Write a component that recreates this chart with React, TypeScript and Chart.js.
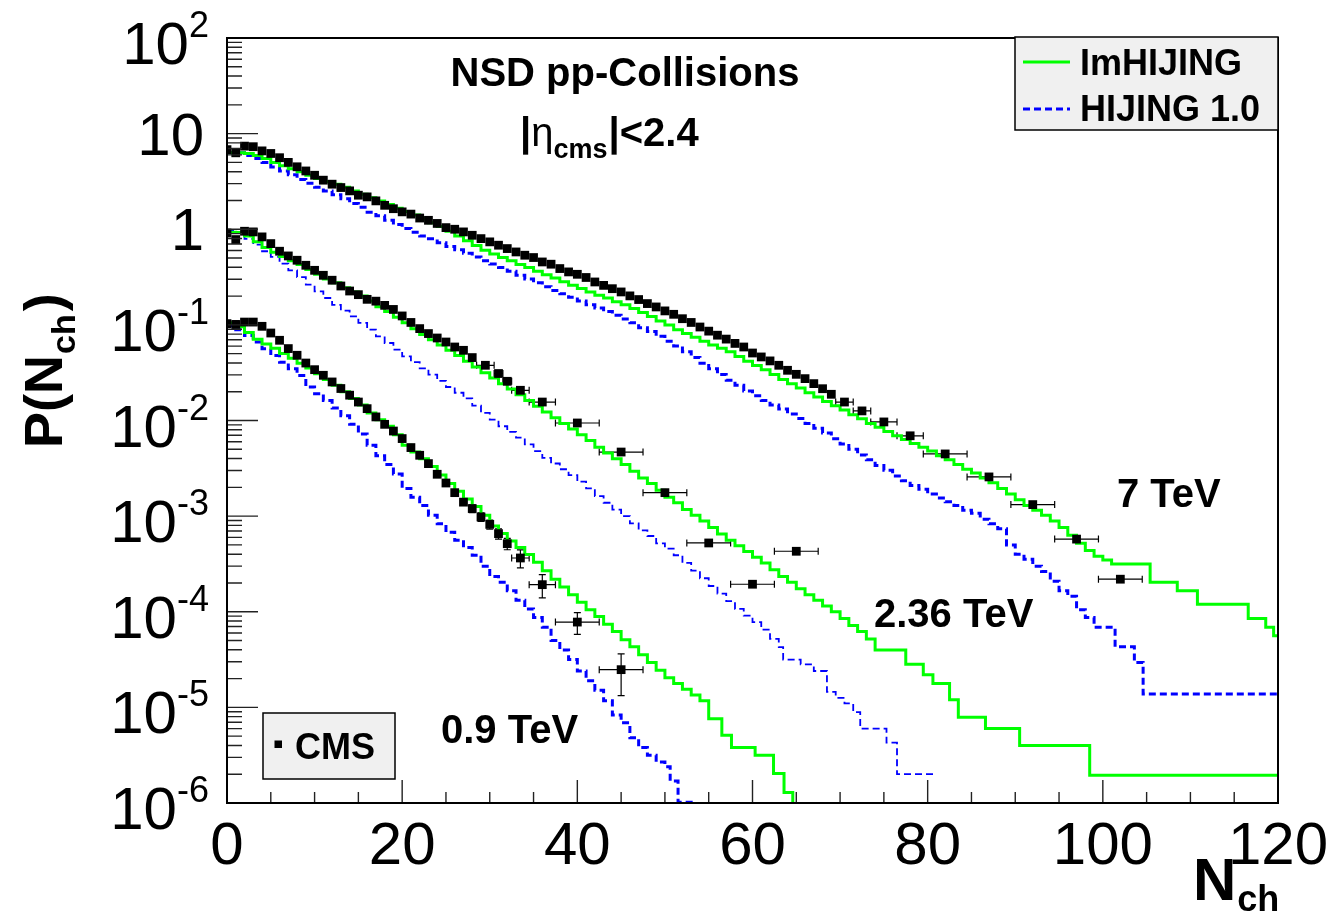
import React, { useEffect, useRef } from 'react';
import { Chart, registerables } from 'chart.js';

Chart.register(...registerables);

// ---------------- axis data ----------------
const xTickValues = [0, 20, 40, 60, 80, 100, 120];
const xMinorStep = 5;
const yTickExponents = [-6, -5, -4, -3, -2, -1, 0, 1, 2];

// ---------------- CMS data (dense bins: N = 0,1,2,...) ----------------
const cms7Dense = [
  6.8, 6.3, 7.4, 7.3, 6.6, 6.2, 5.6, 5.0, 4.5, 4.07,
  3.67, 3.26, 2.96, 2.73, 2.52, 2.27, 2.18, 1.98, 1.78, 1.64,
  1.52, 1.44, 1.31, 1.24, 1.15, 1.04, 1.0, 0.938, 0.865, 0.798,
  0.738, 0.681, 0.628, 0.579, 0.535, 0.506, 0.455, 0.431, 0.388, 0.358,
  0.338, 0.313, 0.281, 0.259, 0.239, 0.221, 0.201, 0.184, 0.167, 0.154,
  0.14, 0.129, 0.116, 0.106, 0.095, 0.086, 0.078, 0.071, 0.064, 0.0587,
  0.0508, 0.0462, 0.042, 0.0378, 0.0335, 0.0304, 0.0274, 0.0243, 0.0215, 0.0188,
];
const cms7WideN = [70.5, 72.5, 75, 78, 82, 87, 92, 97, 102];
const cms7WideP = [0.0156, 0.0126, 0.00966, 0.00692, 0.00447, 0.00257, 0.00132, 5.75e-4, 2.19e-4];
const cms7WideXErr = [1, 1, 1.5, 1.5, 2.5, 2.5, 2.5, 2.5, 2.5];

const cms236Dense = [
  0.914, 0.78, 0.953, 0.938, 0.832, 0.708, 0.589, 0.526, 0.474, 0.42,
  0.372, 0.33, 0.293, 0.255, 0.226, 0.207, 0.185, 0.177, 0.16, 0.145,
  0.124, 0.106, 0.0914, 0.0811, 0.0729, 0.0662, 0.0587, 0.0542, 0.0455,
];
const cms236WideN = [29.5, 31, 32, 33.5, 36, 40, 45, 50, 55, 60, 65];
const cms236WideP = [0.0378, 0.031, 0.0257, 0.0207, 0.0156, 0.00942, 0.00468, 0.00176, 5.24e-4, 1.94e-4, 4.29e-4];
const cms236WideXErr = [1, 0.5, 0.5, 1, 1.5, 2.5, 2.5, 2.5, 2.5, 2.5, 2.5];

const cms09Dense = [
  0.103, 0.101, 0.107, 0.107, 0.0966, 0.0822, 0.069, 0.0565, 0.0481, 0.0399,
  0.034, 0.0297, 0.0253, 0.0216, 0.0184, 0.0156, 0.0133, 0.0109, 0.00912, 0.00776,
  0.00647, 0.00521, 0.00433, 0.00354, 0.00274, 0.00222, 0.00176, 0.0014, 0.0012, 9.8e-4,
  8.2e-4, 6.56e-4, 5.15e-4,
];
const cms09DenseYErr = [
  0, 0.009, 0, 0, 0, 0, 0, 0, 0, 0,
  0, 0, 0, 0, 0, 0, 0, 0, 0, 0,
  0, 0, 0, 1.5e-4, 1.4e-4, 1.2e-4, 1.1e-4, 1.0e-4, 1.1e-4, 1.0e-4,
  9e-5, 8e-5, 7e-5,
];
const cms09WideN = [33.5, 36, 40, 45];
const cms09WideP = [3.65e-4, 1.92e-4, 7.8e-5, 2.48e-5];
const cms09WideXErr = [1, 1.5, 2.5, 2.5];
const cms09WideYErr = [7.8e-5, 5.2e-5, 2.0e-5, 1.15e-5];

// ---------------- model histograms (dense bins [i, i+1], then wider tail bins) ----------------
const green7Dense = [
  6.3, 6.3, 6.2, 5.9, 5.5, 5.0, 4.6, 4.3, 4.0, 3.67,
  3.39, 3.16, 2.95, 2.75, 2.51, 2.32, 2.14, 1.97, 1.82, 1.66,
  1.53, 1.41, 1.29, 1.17, 1.07, 0.955, 0.851, 0.759, 0.676, 0.603,
  0.55, 0.507, 0.468, 0.427, 0.398, 0.363, 0.335, 0.309, 0.282, 0.26,
  0.24, 0.221, 0.204, 0.191, 0.174, 0.162, 0.148, 0.135, 0.122, 0.11,
  0.1, 0.0891, 0.0813, 0.0741, 0.0676, 0.0617, 0.0569, 0.0525, 0.0468, 0.0417,
  0.0376, 0.0339, 0.0302, 0.0269, 0.0243, 0.0219, 0.0195, 0.0176, 0.0158, 0.0143,
  0.0129, 0.0115, 0.0104, 0.00933, 0.00851, 0.00767, 0.00692, 0.00631, 0.00575, 0.00525,
  0.00479, 0.00427, 0.00389, 0.00347, 0.00309, 0.00282, 0.00251, 0.00224, 0.00195, 0.0017,
  0.00148, 0.00129, 0.00115, 0.00102, 8.9e-4, 7.6e-4, 6.3e-4, 5.2e-4, 4.37e-4, 3.8e-4,
  3.47e-4,
];
const green7TailEdges = [101, 105.4, 108.5, 110.8, 116.6, 118.6, 119.5, 120];
const green7TailVals = [3.16e-4, 2.04e-4, 1.66e-4, 1.2e-4, 8.5e-5, 6.9e-5, 5.6e-5];

const blue7Dense = [
  6.3, 6.3, 5.9, 5.5, 5.0, 4.47, 4.07, 3.72, 3.31, 3.02,
  2.75, 2.51, 2.29, 2.09, 1.86, 1.7, 1.51, 1.38, 1.24, 1.12,
  1.02, 0.933, 0.851, 0.794, 0.724, 0.661, 0.61, 0.562, 0.513, 0.468,
  0.432, 0.398, 0.363, 0.331, 0.302, 0.275, 0.251, 0.229, 0.211, 0.195,
  0.178, 0.162, 0.15, 0.138, 0.126, 0.115, 0.105, 0.0933, 0.0851, 0.0759,
  0.0676, 0.0603, 0.0525, 0.0457, 0.0398, 0.0347, 0.0302, 0.0263, 0.0234, 0.0204,
  0.0182, 0.0162, 0.0145, 0.0132, 0.0117, 0.0105, 0.00933, 0.00832, 0.00741, 0.00646,
  0.00569, 0.00501, 0.00437, 0.00389, 0.00339, 0.00302, 0.00263, 0.00234, 0.00209, 0.00191,
  0.0017, 0.00155, 0.00141, 0.00129, 0.00115, 0.00107, 9.3e-4, 8.3e-4, 7.4e-4, 5.0e-4,
  4.0e-4, 3.55e-4, 3.0e-4, 2.63e-4, 2.09e-4, 1.66e-4, 1.45e-4, 1.05e-4, 8.7e-5,
];
const blue7TailEdges = [99, 101.4, 103.6, 104.6, 120];
const blue7TailVals = [6.9e-5, 4.3e-5, 2.95e-5, 1.38e-5];

const green236Dense = [
  0.933, 0.923, 0.851, 0.741, 0.646, 0.575, 0.519, 0.468, 0.427, 0.38,
  0.339, 0.302, 0.275, 0.245, 0.221, 0.2, 0.178, 0.155, 0.138, 0.12,
  0.105, 0.0912, 0.0794, 0.07, 0.0617, 0.0543, 0.0479, 0.0417, 0.0363, 0.0316,
  0.0279, 0.0243, 0.0214, 0.0186, 0.0162, 0.0141, 0.0123, 0.0107, 0.00933, 0.00813,
  0.00708, 0.00617, 0.00525, 0.00457, 0.00398, 0.00347, 0.00295, 0.00251, 0.00219, 0.00186,
  0.00158, 0.00138, 0.00117, 0.00102, 8.9e-4, 7.6e-4, 6.5e-4, 5.6e-4, 4.9e-4, 4.27e-4,
  3.72e-4, 3.24e-4, 2.75e-4, 2.34e-4, 2.04e-4, 1.74e-4, 1.51e-4, 1.32e-4, 1.15e-4, 1.0e-4,
  8.5e-5, 7.2e-5, 6.2e-5, 5.2e-5,
];
const green236TailEdges = [74, 77.5, 79.5, 80.6, 82.5, 83.5, 86.6, 90.5, 98.5, 120];
const green236TailVals = [3.98e-5, 2.82e-5, 2.19e-5, 1.78e-5, 1.2e-5, 7.9e-6, 6.0e-6, 4.0e-6, 1.95e-6];

const blue236Dense = [
  0.977, 0.912, 0.794, 0.692, 0.589, 0.513, 0.437, 0.372, 0.316, 0.263,
  0.224, 0.191, 0.162, 0.141, 0.123, 0.105, 0.0891, 0.0759, 0.0646, 0.055,
  0.0468, 0.0407, 0.0351, 0.0302, 0.026, 0.0224, 0.0195, 0.017, 0.0143, 0.012,
  0.0102, 0.00871, 0.00759, 0.00661, 0.00562, 0.00479, 0.00407, 0.00355, 0.00309, 0.00269,
  0.00229, 0.00195, 0.00162, 0.00138, 0.00117, 0.001, 8.4e-4, 7.1e-4, 6.2e-4, 5.2e-4,
  4.57e-4, 3.9e-4, 3.24e-4, 2.69e-4, 2.24e-4, 1.86e-4, 1.55e-4, 1.29e-4, 1.07e-4, 9.1e-5,
  7.8e-5, 6.5e-5, 5.2e-5,
];
const blue236TailEdges = [63, 63.5, 65.5, 67, 68.5, 69.5, 70.5, 71.5, 72.3, 75.3, 76.5, 81];
const blue236TailVals = [4.27e-5, 3.16e-5, 2.82e-5, 2.4e-5, 1.45e-5, 1.26e-5, 1.1e-5, 8.9e-6, 6.0e-6, 4.27e-6, 2.0e-6];

const green09Dense = [
  0.105, 0.0955, 0.0832, 0.0708, 0.0631, 0.0569, 0.0501, 0.0447, 0.0398, 0.0355,
  0.0309, 0.0269, 0.0234, 0.02, 0.017, 0.0145, 0.012, 0.0102, 0.00871, 0.00708,
  0.0055, 0.00468, 0.00398, 0.00331, 0.00269, 0.00219, 0.00182, 0.00151, 0.00126, 0.00102,
  7.9e-4, 6.6e-4, 5.5e-4, 4.7e-4, 3.98e-4, 3.3e-4, 2.69e-4, 2.19e-4, 1.82e-4, 1.51e-4,
  1.26e-4, 1.05e-4, 8.9e-5, 7.4e-5, 6.2e-5, 5.1e-5, 4.3e-5, 3.55e-5, 2.95e-5, 2.45e-5,
  2.04e-5, 1.78e-5, 1.55e-5, 1.35e-5, 1.17e-5,
];
const green09TailEdges = [55, 56.5, 57.6, 60.3, 62.4, 63.6, 64.6, 66];
const green09TailVals = [7.6e-6, 5.1e-6, 3.8e-6, 3.16e-6, 2.04e-6, 1.29e-6, 6e-7];

const blue09Dense = [
  0.0977, 0.0891, 0.0776, 0.0661, 0.0562, 0.0479, 0.0407, 0.0347, 0.0295, 0.0224,
  0.0191, 0.0162, 0.0135, 0.0112, 0.00912, 0.00724, 0.0055, 0.00427, 0.00347, 0.00275,
  0.00195, 0.00158, 0.00129, 0.00102, 8.3e-4, 6.8e-4, 5.6e-4, 4.7e-4, 3.9e-4, 3.0e-4,
  2.34e-4, 2.04e-4, 1.66e-4, 1.32e-4, 1.07e-4, 8.7e-5, 6.9e-5, 5.0e-5, 3.98e-5, 3.16e-5,
  2.4e-5, 1.9e-5, 1.51e-5, 1.17e-5, 8.3e-6, 6.9e-6, 4.8e-6, 3.8e-6, 3.16e-6, 2.69e-6,
];
const blue09TailEdges = [50, 50.6, 51.5, 53.5];
const blue09TailVals = [2.4e-6, 1.7e-6, 1.02e-6];

// ---------------- texts ----------------
const legendModels = ['ImHIJING', 'HIJING 1.0'];
const legendData = 'CMS';
const energyLabels = ['7 TeV', '2.36 TeV', '0.9 TeV'];
const titleLine = 'NSD pp-Collisions';

// ---------------- helpers ----------------
const FONT = '"Liberation Sans", Arial, Helvetica, sans-serif';
const GREEN = '#00ff00';
const BLUE = '#0000ff';

type Pt = { x: number; y: number };

function histogram(dense: number[], tailEdges: number[], tailVals: number[]): Pt[] {
  const pts: Pt[] = dense.map((v, i) => ({ x: i, y: v }));
  tailVals.forEach((v, i) => pts.push({ x: tailEdges[i], y: v }));
  const lastVal = tailVals.length ? tailVals[tailVals.length - 1] : dense[dense.length - 1];
  const lastEdge = tailVals.length ? tailEdges[tailEdges.length - 1] : dense.length;
  pts.push({ x: lastEdge, y: lastVal });
  return pts;
}

function points(dense: number[], wideN: number[], wideP: number[]): Pt[] {
  const pts: Pt[] = dense.map((v, i) => ({ x: i, y: v }));
  wideN.forEach((n, i) => pts.push({ x: n, y: wideP[i] }));
  return pts;
}

function zeros(n: number) {
  return new Array(n).fill(0);
}

function dataSet(label: string, data: Pt[], xErr: number[], yErr: number[]) {
  return {
    label,
    data,
    xErr,
    yErr,
    showLine: false,
    pointStyle: 'rect',
    pointRadius: 6.2,
    pointBackgroundColor: '#000',
    pointBorderColor: '#000',
    pointBorderWidth: 0,
    borderColor: '#000',
    backgroundColor: '#000',
  };
}

function modelSet(label: string, data: Pt[], color: string, width: number, dashed: boolean) {
  return {
    label,
    data,
    stepped: 'before',
    borderColor: color,
    borderWidth: width,
    borderDash: dashed ? [7, 4] : [],
    pointRadius: 0,
    fill: false,
    tension: 0,
    clip: 0,
  };
}

const decorationPlugin = {
  id: 'rootStyle',
  beforeDatasetsDraw(chart: any) {
    const { ctx, scales } = chart;
    const xs = scales.x;
    const ys = scales.y;
    ctx.save();
    ctx.strokeStyle = '#000';
    ctx.lineWidth = 1.2;
    chart.data.datasets.forEach((ds: any) => {
      if (!ds.xErr) return;
      ds.data.forEach((p: Pt, j: number) => {
        const px = xs.getPixelForValue(p.x);
        const py = ys.getPixelForValue(p.y);
        const ex = ds.xErr[j] || 0;
        const ey = ds.yErr[j] || 0;
        if (ex > 0) {
          const x1 = xs.getPixelForValue(p.x - ex);
          const x2 = xs.getPixelForValue(p.x + ex);
          ctx.beginPath();
          ctx.moveTo(x1, py);
          ctx.lineTo(x2, py);
          ctx.moveTo(x1, py - 3.5);
          ctx.lineTo(x1, py + 3.5);
          ctx.moveTo(x2, py - 3.5);
          ctx.lineTo(x2, py + 3.5);
          ctx.stroke();
        }
        if (ey > 0) {
          const y1 = ys.getPixelForValue(p.y + ey);
          const y2 = ys.getPixelForValue(Math.max(p.y - ey, 1e-9));
          ctx.beginPath();
          ctx.moveTo(px, y1);
          ctx.lineTo(px, y2);
          ctx.moveTo(px - 3.5, y1);
          ctx.lineTo(px + 3.5, y1);
          ctx.moveTo(px - 3.5, y2);
          ctx.lineTo(px + 3.5, y2);
          ctx.stroke();
        }
      });
    });
    ctx.restore();
  },
  afterDraw(chart: any) {
    const { ctx, chartArea: a, scales } = chart;
    const xs = scales.x;
    const ys = scales.y;
    ctx.save();

    // ticks
    ctx.strokeStyle = '#222';
    ctx.lineWidth = 1.4;
    ctx.beginPath();
    yTickExponents.forEach((e) => {
      const yp = ys.getPixelForValue(Math.pow(10, e));
      ctx.moveTo(a.left, yp);
      ctx.lineTo(a.left + 31, yp);
      if (e < yTickExponents[yTickExponents.length - 1]) {
        for (let m = 2; m <= 9; m++) {
          const ym = ys.getPixelForValue(m * Math.pow(10, e));
          ctx.moveTo(a.left, ym);
          ctx.lineTo(a.left + 15, ym);
        }
      }
    });
    const xMax = xTickValues[xTickValues.length - 1];
    for (let v = xTickValues[0]; v <= xMax; v += xMinorStep) {
      const xp = xs.getPixelForValue(v);
      const len = xTickValues.includes(v) ? 23 : 11;
      ctx.moveTo(xp, a.bottom);
      ctx.lineTo(xp, a.bottom - len);
    }
    ctx.stroke();

    // frame
    ctx.strokeStyle = '#000';
    ctx.lineWidth = 2;
    ctx.strokeRect(a.left, a.top, a.right - a.left, a.bottom - a.top);

    ctx.fillStyle = '#000';
    // y tick labels
    yTickExponents.forEach((e) => {
      const yp = ys.getPixelForValue(Math.pow(10, e));
      ctx.textBaseline = 'alphabetic';
      if (e === 0 || e === 1) {
        ctx.font = `60px ${FONT}`;
        ctx.textAlign = 'right';
        ctx.fillText(e === 0 ? '1' : '10', 204, yp + 21);
        return;
      }
      const expStr = e < 0 ? '-' + -e : String(e);
      ctx.font = `36px ${FONT}`;
      const ew = ctx.measureText(expStr).width;
      ctx.textAlign = 'left';
      ctx.fillText(expStr, 209 - ew, yp - 1);
      ctx.font = `60px ${FONT}`;
      ctx.textAlign = 'right';
      ctx.fillText('10', 209 - ew, yp + 26);
    });
    // x tick labels
    ctx.font = `60px ${FONT}`;
    ctx.textAlign = 'center';
    xTickValues.forEach((v) => {
      ctx.fillText(String(v), xs.getPixelForValue(v), 864);
    });

    // axis titles
    ctx.textAlign = 'left';
    ctx.font = `bold 60px ${FONT}`;
    ctx.fillText('N', 1193, 900);
    const wN = ctx.measureText('N').width;
    ctx.font = `bold 36px ${FONT}`;
    ctx.fillText('ch', 1193 + wN + 1, 911);

    ctx.save();
    ctx.translate(62, 448);
    ctx.rotate(-Math.PI / 2);
    ctx.font = `bold 54px ${FONT}`;
    ctx.fillText('P(N', 0, 0);
    const wP = ctx.measureText('P(N').width;
    ctx.font = `bold 34px ${FONT}`;
    ctx.fillText('ch', wP + 1, 13);
    const wch = ctx.measureText('ch').width;
    ctx.font = `bold 54px ${FONT}`;
    ctx.fillText(')', wP + wch + 4, 0);
    ctx.restore();

    // title texts
    ctx.font = `bold 40px ${FONT}`;
    ctx.textAlign = 'center';
    ctx.fillText(titleLine, 625, 86);
    ctx.textAlign = 'left';
    let tx = 520;
    ctx.font = `bold 40px ${FONT}`;
    ctx.fillText('|', tx, 146);
    tx += ctx.measureText('|').width;
    ctx.font = `40px ${FONT}`;
    ctx.fillText('\u03B7', tx, 146);
    tx += ctx.measureText('\u03B7').width;
    ctx.font = `bold 27px ${FONT}`;
    ctx.fillText('cms', tx, 158);
    tx += ctx.measureText('cms').width + 1;
    ctx.font = `bold 40px ${FONT}`;
    ctx.fillText('|<2.4', tx, 146);

    // energy labels
    ctx.font = `bold 40px ${FONT}`;
    ctx.fillText(energyLabels[0], 1117, 507);
    ctx.fillText(energyLabels[1], 874, 627);
    ctx.fillText(energyLabels[2], 441, 743);

    // model legend box
    ctx.fillStyle = '#f0f0f0';
    ctx.fillRect(1015, 37, 263, 93);
    ctx.strokeStyle = '#000';
    ctx.lineWidth = 1.5;
    ctx.strokeRect(1015, 37, 263, 93);
    ctx.lineWidth = 3;
    ctx.strokeStyle = GREEN;
    ctx.beginPath();
    ctx.moveTo(1023, 62);
    ctx.lineTo(1070, 62);
    ctx.stroke();
    ctx.strokeStyle = BLUE;
    ctx.setLineDash([7, 4]);
    ctx.beginPath();
    ctx.moveTo(1023, 109);
    ctx.lineTo(1070, 109);
    ctx.stroke();
    ctx.setLineDash([]);
    ctx.fillStyle = '#000';
    ctx.font = `bold 36px ${FONT}`;
    ctx.fillText(legendModels[0], 1080, 75);
    ctx.fillText(legendModels[1], 1080, 121);

    // data legend box
    ctx.fillStyle = '#f0f0f0';
    ctx.fillRect(263, 713, 132, 66);
    ctx.strokeStyle = '#000';
    ctx.lineWidth = 1.5;
    ctx.strokeRect(263, 713, 132, 66);
    ctx.fillStyle = '#000';
    ctx.fillRect(274.5, 740.5, 7.5, 7.5);
    ctx.font = `bold 36px ${FONT}`;
    ctx.fillText(legendData, 295, 759);

    ctx.restore();
  },
};

export default function App() {
  const ref = useRef<HTMLCanvasElement>(null);
  useEffect(() => {
    const canvas = ref.current;
    if (!canvas) return;
    const datasets: any[] = [
      dataSet('CMS 7 TeV', points(cms7Dense, cms7WideN, cms7WideP), [...zeros(cms7Dense.length), ...cms7WideXErr], zeros(cms7Dense.length + cms7WideN.length)),
      dataSet('CMS 2.36 TeV', points(cms236Dense, cms236WideN, cms236WideP), [...zeros(cms236Dense.length), ...cms236WideXErr], zeros(cms236Dense.length + cms236WideN.length)),
      dataSet('CMS 0.9 TeV', points(cms09Dense, cms09WideN, cms09WideP), [...zeros(cms09Dense.length), ...cms09WideXErr], [...cms09DenseYErr, ...cms09WideYErr]),
      modelSet('ImHIJING 7 TeV', histogram(green7Dense, green7TailEdges, green7TailVals), GREEN, 3, false),
      modelSet('ImHIJING 2.36 TeV', histogram(green236Dense, green236TailEdges, green236TailVals), GREEN, 3, false),
      modelSet('ImHIJING 0.9 TeV', histogram(green09Dense, green09TailEdges, green09TailVals), GREEN, 3, false),
      modelSet('HIJING 1.0 7 TeV', histogram(blue7Dense, blue7TailEdges, blue7TailVals), BLUE, 3, true),
      modelSet('HIJING 1.0 2.36 TeV', histogram(blue236Dense, blue236TailEdges, blue236TailVals), BLUE, 1.8, true),
      modelSet('HIJING 1.0 0.9 TeV', histogram(blue09Dense, blue09TailEdges, blue09TailVals), BLUE, 3, true),
    ];
    const chart = new Chart(canvas, {
      type: 'line',
      data: { datasets },
      options: {
        responsive: false,
        maintainAspectRatio: false,
        devicePixelRatio: 1,
        animation: false,
        events: [],
        layout: { padding: { left: 227, right: 62, top: 38, bottom: 112 } },
        scales: {
          x: { type: 'linear', min: 0, max: 120, display: false },
          y: { type: 'logarithmic', min: 1e-6, max: 100, display: false },
        },
        plugins: {
          legend: { display: false },
          tooltip: { enabled: false },
        },
      },
      plugins: [decorationPlugin],
    } as any);
    return () => chart.destroy();
  }, []);
  return (
    <div style={{ position: 'fixed', left: 0, top: 0, width: 1340, height: 915, background: '#fff' }}>
      <canvas ref={ref} width={1340} height={915} style={{ display: 'block', width: 1340, height: 915 }} />
    </div>
  );
}
